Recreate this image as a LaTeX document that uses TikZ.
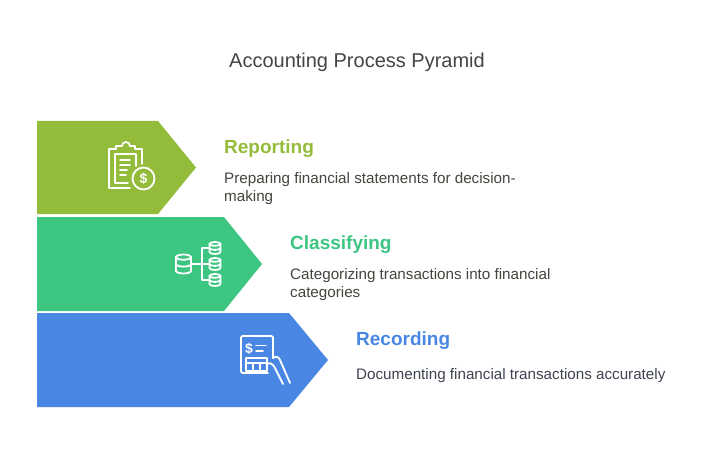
\documentclass[tikz,border=0pt]{standalone}
\usepackage{fontspec}
\setmainfont{Liberation Sans}
\definecolor{cgreen}{HTML}{94BC3B}
\definecolor{cteal}{HTML}{3DC582}
\definecolor{cblue}{HTML}{4A87E5}
\definecolor{ctitle}{HTML}{444444}
\definecolor{cdescg}{HTML}{45453F}
\definecolor{cdescb}{HTML}{3E4350}
\begin{document}
\begin{tikzpicture}[x=1pt,y=-1pt,
 heading/.style={anchor=base west, inner sep=0, font=\fontsize{19}{23}\selectfont\bfseries},
 desc/.style={anchor=base west, inner sep=0, font=\fontsize{15.2}{18}\selectfont, text=cdescg},
 icon/.style={draw=white, line width=1.8pt, line cap=round, line join=round},
 dollar/.style={inner sep=0, text=white, font=\fontsize{14}{14}\selectfont\bfseries}]
\useasboundingbox (0,0) rectangle (714,468);
\fill[white] (0,0) rectangle (714,468);
\node[anchor=base, inner sep=0, font=\fontsize{20}{24}\selectfont, text=ctitle] (title) at (357,68) {Accounting Process Pyramid};
% bands
\fill[cgreen] (37,121) -- (158,121) -- (196,167.5) -- (158,214) -- (37,214) -- cycle;
\fill[cteal] (37,217) -- (224,217) -- (262,264) -- (224,311) -- (37,311) -- cycle;
\fill[cblue] (37,313) -- (289,313) -- (328,360) -- (289,407) -- (37,407) -- cycle;
% texts
\node[heading, text=cgreen] (h1) at (224,153) {Reporting};
\node[desc] (d1a) at (224,183) {Preparing financial statements for decision-};
\node[desc] (d1b) at (224,201) {making};
\node[heading, text=cteal] (h2) at (290,249) {Classifying};
\node[desc] (d2a) at (290,279) {Categorizing transactions into financial};
\node[desc] (d2b) at (290,297) {categories};
\node[heading, text=cblue] (h3) at (356,345) {Recording};
\node[desc, text=cdescb] (d3a) at (356,379) {Documenting financial transactions accurately};
% reporting icon
\draw[icon] (130,188) -- (109,188) -- (109,149) -- (116,149) -- (116,146) -- (122,146)
  arc[start angle=180, end angle=360, radius=4] -- (135,146) -- (135,149) -- (142,149) -- (142,164);
\draw[icon] (128,183) -- (115,183) -- (115,154) -- (136,154) -- (136,166);
\draw[icon] (120,160) -- (130,160) (120,165) -- (130,165) (120,170) -- (127,170) (120,175) -- (126,175);
\draw[icon] (143.5,178.5) circle[radius=11];
\node[dollar] (dol1) at (143.5,178.5) {\$};
% classifying icon
\tikzset{pics/dbc/.style n args={2}{code={
  \draw[icon] (-#1,-#2+0.35*#1) -- (-#1,#2-0.35*#1) arc[start angle=180, end angle=0, x radius=#1, y radius=0.35*#1] -- (#1,-#2+0.35*#1);
  \draw[icon] (0,-#2+0.35*#1) ellipse[x radius=#1, y radius=0.35*#1];
  \draw[icon] (-#1,0) arc[start angle=180, end angle=0, x radius=#1, y radius=0.35*#1];
}}}
\pic at (183.5,264) {dbc={7.5}{9.5}};
\pic at (215,248) {dbc={5.5}{6}};
\pic at (215,264) {dbc={5.5}{6}};
\pic at (215,280) {dbc={5.5}{6}};
\draw[icon] (192,264) -- (208.5,264);
\draw[icon] (208.5,248) -- (202,248) -- (202,280) -- (208.5,280);
% recording icon
\draw[icon, rounded corners=1.5] (273,358) -- (273,336) -- (241,336) -- (241,373) -- (268,373);
\node[dollar] (dol2) at (249,349) {\$};
\draw[icon] (256,345.5) -- (266,345.5) (256,351) -- (263,351);
\draw[icon] (246,358) rectangle (267,371);
\draw[icon] (246,363) -- (267,363) (253,363) -- (253,371) (260,363) -- (260,371);
\draw[icon] (273,358) .. controls (276,356) and (279,357) .. (280,360) -- (290,383);
\draw[icon] (267,364) .. controls (270,362) and (273,364) .. (275,368) -- (283,384);
\end{tikzpicture}
\end{document}
